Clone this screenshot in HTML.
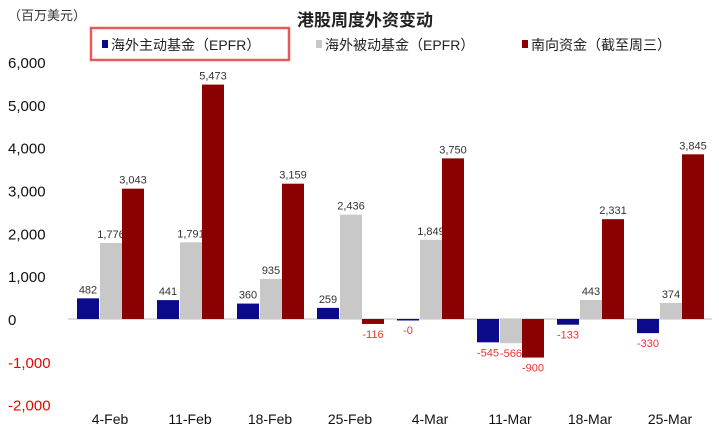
<!DOCTYPE html>
<html><head><meta charset="utf-8"><style>
body{margin:0;background:#fff;font-family:"Liberation Sans","Noto Sans CJK SC",sans-serif;}
svg text{font-family:"Liberation Sans","Noto Sans CJK SC",sans-serif;}
</style></head><body>
<svg width="719" height="433">
<text x="8" y="20" font-size="13" fill="#333">（百万美元）</text>
<text x="365" y="26" font-size="17" font-weight="bold" text-anchor="middle" fill="#222">港股周度外资变动</text>
<rect x="91" y="28" width="198" height="32" fill="none" stroke="#e8595a" stroke-width="2.5"/>
<g>
<rect x="102" y="40" width="6" height="8" fill="#0a0a8a"/><text x="111" y="50" font-size="14" fill="#222">海外主动基金（EPFR）</text>
<rect x="316" y="40" width="6" height="8" fill="#c8c8c8"/><text x="325" y="50" font-size="14" fill="#222">海外被动基金（EPFR）</text>
<rect x="522" y="40" width="6" height="8" fill="#8b0000"/><text x="531" y="50" font-size="14" fill="#222">南向资金（截至周三）</text>
</g>
<g id="axis"></g><g id="bars"></g>
</svg>
<script>
const categories=["4-Feb","11-Feb","18-Feb","25-Feb","4-Mar","11-Mar","18-Mar","25-Mar"];
const active=[482,441,360,259,-20,-545,-133,-330];
const passive=[1776,1791,935,2436,1849,-566,443,374];
const southbound=[3043,5473,3159,-116,3750,-900,2331,3845];
const activeLabels=["482","441","360","259","-0","-545","-133","-330"];
const ticks=[6000,5000,4000,3000,2000,1000,0,-1000,-2000];
const NS="http://www.w3.org/2000/svg";
const y=v=>319-v*0.04283;
const gx=i=>77+i*80;
const ax=document.getElementById('axis'),bg=document.getElementById('bars');
function mk(tag,attrs,parent,txt){const e=document.createElementNS(NS,tag);for(const k in attrs)e.setAttribute(k,attrs[k]);if(txt!==undefined)e.textContent=txt;parent.appendChild(e);return e;}
ticks.forEach(t=>{const e=mk('text',{x:8,y:y(t)+6,'font-size':15,fill:t<0?'#e00':'#111'},ax,t.toLocaleString('en-US'));

});
const zl=mk('line',{x1:68,x2:712,y1:y(0),y2:y(0),stroke:'#bbb','stroke-width':1},ax);


categories.forEach((c,i)=>{const e=mk('text',{x:gx(i)+33,y:424,'font-size':14,'text-anchor':'middle',fill:'#111'},ax,c);

});
const series=[[active,'#0a0a8a',0,'active'],[passive,'#c8c8c8',23,'passive'],[southbound,'#8b0000',45,'southbound']];
series.forEach(([vals,col,off,nm])=>{vals.forEach((v,i)=>{
const x=gx(i)+off,y0=y(0),y1=y(v);
const r=mk('rect',{x:x,y:Math.min(y0,y1),width:22,height:Math.max(1.5,Math.abs(y1-y0)),fill:col},bg);


const lbl=nm==='active'?activeLabels[i]:v.toLocaleString('en-US');
const neg=v<0;
const ty=neg?y1+14:y1-5;
const t=mk('text',{x:x+11,y:ty,'font-size':11,'text-anchor':'middle',fill:neg?'#e33':'#333'},bg,lbl);


});});
</script>
</body></html>
